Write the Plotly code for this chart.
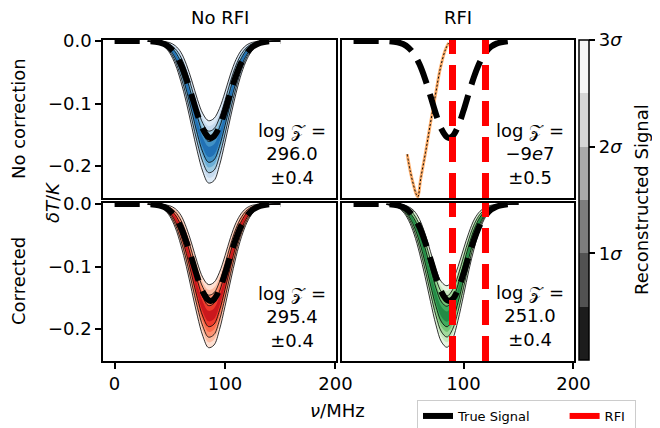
import plotly.graph_objects as go

# ---------------- data ----------------
NU = [30, 40, 45, 50, 55, 60, 65, 70, 75, 80, 85, 90, 95, 100, 105, 110, 115, 120, 125, 130, 140, 150]

# No correction / No RFI (blue)
mu_nocorr_norfi = [-0.0002, -0.0020, -0.0049, -0.0111, -0.0226, -0.0413, -0.0680, -0.1010, -0.1352, -0.1630, -0.1772,
                   -0.1735, -0.1532, -0.1218, -0.0873, -0.0564, -0.0328, -0.0172, -0.0081, -0.0035, -0.0005, 0.0]
sd_nocorr_norfi = [0.0001, 0.0006, 0.0013, 0.0028, 0.0050, 0.0078, 0.0102, 0.0124, 0.0140, 0.0155, 0.0166,
                   0.0166, 0.0152, 0.0134, 0.0115, 0.0090, 0.0062, 0.0038, 0.0020, 0.0009, 0.0002, 0.0]
# Corrected / No RFI (red)
mu_corr_norfi = [-0.0002, -0.0020, -0.0050, -0.0112, -0.0228, -0.0418, -0.0688, -0.1021, -0.1367, -0.1648, -0.1792,
                 -0.1754, -0.1549, -0.1231, -0.0883, -0.0570, -0.0332, -0.0174, -0.0082, -0.0035, -0.0005, 0.0]
sd_corr_norfi = [0.0001, 0.0006, 0.0013, 0.0028, 0.0051, 0.0080, 0.0104, 0.0126, 0.0142, 0.0156, 0.0168,
                 0.0167, 0.0153, 0.0135, 0.0116, 0.0091, 0.0063, 0.0039, 0.0021, 0.0009, 0.0002, 0.0]
# Corrected / RFI (green)
mu_corr_rfi = [-0.0004, -0.0029, -0.0070, -0.0151, -0.0294, -0.0516, -0.0816, -0.1162, -0.1492, -0.1726, -0.1799,
               -0.1690, -0.1431, -0.1092, -0.0751, -0.0465, -0.0260, -0.0131, -0.0059, -0.0024, -0.0003, 0.0]
sd_corr_rfi = [0.0001, 0.0008, 0.0018, 0.0036, 0.0062, 0.0090, 0.0114, 0.0133, 0.0148, 0.0160, 0.0164,
               0.0158, 0.0143, 0.0124, 0.0100, 0.0075, 0.0048, 0.0026, 0.0013, 0.0006, 0.0001, 0.0]

# No correction / RFI: collapsed (very thin) reconstruction
nu_fit_rfi = [48.8, 51.8, 54.8, 57.0, 58.5, 61.0, 65.5, 70.0, 74.5, 79.0, 83.5, 86.5]
T_fit_rfi = [-0.181, -0.210, -0.232, -0.245, -0.249, -0.221, -0.178, -0.131, -0.086, -0.043, -0.014, -0.003]

# True signal
nu_true = [0, 20, 30, 40, 45, 50, 55, 60, 65, 70, 75, 80, 85, 87, 90, 95, 100, 105, 110, 115, 120, 125, 130, 140, 150]
T_true = [0, 0, -0.0003, -0.0021, -0.0049, -0.0107, -0.0210, -0.0373, -0.0602, -0.0881, -0.1170, -0.1410, -0.1538,
          -0.1550, -0.1523, -0.1368, -0.1114, -0.0823, -0.0552, -0.0335, -0.0185, -0.0092, -0.0042, -0.0006, 0]

# RFI frequencies
rfi_nu = [90.0, 120.0]

# Evidences
logz_vals = ["296.0", "−9<i>e</i>7", "295.4", "251.0"]
logz_errs = ["±0.4", "±0.5", "±0.4", "±0.4"]

col_titles = ["No RFI", "RFI"]
row_titles = ["No correction", "Corrected"]
legend_names = ["True Signal", "RFI"]
cbar_title = "Reconstructed Signal"
sigma_levels = [3.0, 2.5, 2.0, 1.5, 1.0, 0.5]
cbar_ticks = [1, 2, 3]
cbar_text = ["1<i>σ</i>", "2<i>σ</i>", "3<i>σ</i>"]
x_ticks_left = [0, 100, 200]
x_ticks_right = [100, 200]
y_ticks = [0.0, -0.1, -0.2]

BLUES = ['#deebf7', '#c6dbef', '#9ecae1', '#6baed6', '#4292c6', '#2171b5']
REDS = ['#fee0d2', '#fcbba1', '#fc9272', '#fb6a4a', '#ef3b2c', '#cb181d']
GREENS = ['#e5f5e0', '#c7e9c0', '#a1d99b', '#74c476', '#41ab5d', '#238b45']
GRAYS = ['#1c1c1c', '#525252', '#7d7d7d', '#a9a9a9', '#d6d6d6', '#f5f5f5']

W, H = 660, 428
OFF = 8  # page body margin offset
FONT = "DejaVu Sans"
YR = [-0.251, 0.0016]
XR = [-10.5, 200.5]


def fx(px):
    return (px - OFF) / W


def fy(py):
    return 1 - (py - OFF) / H


fig = go.Figure()


def add_bands(mu, sd, colors, xa, ya):
    for k, col in zip(sigma_levels, colors):
        lower = [m - k * s for m, s in zip(mu, sd)]
        upper = [m + k * s for m, s in zip(mu, sd)]
        fig.add_trace(go.Scatter(x=NU + NU[::-1], y=lower + upper[::-1], mode='lines', fill='toself',
                                 fillcolor=col, line=dict(color='rgba(0,0,0,0)', width=0, shape='spline'),
                                 xaxis=xa, yaxis=ya, hoverinfo='skip', showlegend=False))
    for k in [1, 2, 3]:
        for sgn in (-1, 1):
            fig.add_trace(go.Scatter(x=NU, y=[m + sgn * k * s for m, s in zip(mu, sd)], mode='lines',
                                     line=dict(color='black', width=0.8, shape='spline'),
                                     xaxis=xa, yaxis=ya, hoverinfo='skip', showlegend=False))


def add_true(xa, ya):
    fig.add_trace(go.Scatter(x=nu_true, y=T_true, mode='lines',
                             line=dict(color='black', width=6, dash='25px,11px', shape='spline'),
                             xaxis=xa, yaxis=ya, hoverinfo='skip', showlegend=False))


def add_rfi(xa, ya):
    for f in rfi_nu:
        fig.add_trace(go.Scatter(x=[f, f], y=[YR[0], YR[1]], mode='lines',
                                 line=dict(color='#ff0000', width=7, dash='25px,11px'),
                                 xaxis=xa, yaxis=ya, hoverinfo='skip', showlegend=False))


# top-left
add_bands(mu_nocorr_norfi, sd_nocorr_norfi, BLUES, 'x', 'y')
add_true('x', 'y')
# top-right
fig.add_trace(go.Scatter(x=nu_fit_rfi, y=T_fit_rfi, mode='lines',
                         line=dict(color='#fdae6b', width=3, shape='spline'),
                         xaxis='x2', yaxis='y2', hoverinfo='skip', showlegend=False))
fig.add_trace(go.Scatter(x=nu_fit_rfi, y=T_fit_rfi, mode='lines',
                         line=dict(color='black', width=1, dash='2px,2px', shape='spline'),
                         xaxis='x2', yaxis='y2', hoverinfo='skip', showlegend=False))
add_true('x2', 'y2')
add_rfi('x2', 'y2')
# bottom-left
add_bands(mu_corr_norfi, sd_corr_norfi, REDS, 'x3', 'y3')
add_true('x3', 'y3')
# bottom-right
add_bands(mu_corr_rfi, sd_corr_rfi, GREENS, 'x4', 'y4')
add_true('x4', 'y4')
add_rfi('x4', 'y4')

# colorbar (dummy, clipped marker)
cs = []
for i, c in enumerate(GRAYS):
    cs.append([i / 6, c])
    cs.append([(i + 1) / 6, c])
fig.add_trace(go.Scatter(x=[-100, -100], y=[0, 0], mode='markers', xaxis='x', yaxis='y',
                         marker=dict(color=[0, 3], cmin=0, cmax=3, colorscale=cs, showscale=True, size=1,
                                     colorbar=dict(x=fx(579), xanchor='left', xpad=0, ypad=0,
                                                   y=fy(200), yanchor='middle', len=320, lenmode='pixels',
                                                   thickness=10, outlinewidth=1.5, outlinecolor='black',
                                                   tickvals=cbar_ticks, ticktext=cbar_text, ticks='outside',
                                                   ticklen=6, tickwidth=1.5, tickcolor='black',
                                                   tickfont=dict(size=18, family=FONT, color='black'))),
                         hoverinfo='skip', showlegend=False))

# legend entries
NBSP = "\u00a0"
fig.add_trace(go.Scatter(x=[None], y=[None], mode='lines', line=dict(color='black', width=6),
                         name=legend_names[0] + NBSP * 7))
fig.add_trace(go.Scatter(x=[None], y=[None], mode='lines', line=dict(color='#ff0000', width=6),
                         name=legend_names[1] + NBSP))

xl = [fx(103), fx(336)]
xr = [fx(342), fx(574)]
yt = [fy(198), fy(40)]
yb = [fy(361), fy(203)]

common = dict(showline=True, mirror=True, linecolor='black', linewidth=1.5, showgrid=False, zeroline=False,
              automargin=False,
              tickfont=dict(size=18, family=FONT, color='black'), ticklen=6, tickwidth=1.5, tickcolor='black')


def xax(dom, anchor, ticks_vals):
    d = dict(common, domain=dom, anchor=anchor, range=XR)
    if ticks_vals is None:
        d.update(showticklabels=False, ticks='')
    else:
        d.update(tickvals=ticks_vals, ticks='outside')
    return d


def yax(dom, anchor, show):
    d = dict(common, domain=dom, anchor=anchor, range=YR)
    if show:
        d.update(tickvals=y_ticks, ticks='outside', tickformat='.1f')
    else:
        d.update(showticklabels=False, ticks='')
    return d


annotations = []


def ann(text, px, py, size=18, angle=0):
    annotations.append(dict(text=text, x=fx(px), y=fy(py), xref='paper', yref='paper', showarrow=False,
                            xanchor='center', yanchor='middle', textangle=angle,
                            font=dict(size=size, family=FONT, color='black')))


ann(col_titles[0], 220, 18)
ann(col_titles[1], 458, 18)
ann(row_titles[0], 18, 119, angle=-90)
ann(row_titles[1], 18, 281, angle=-90)
ann("<i>δT</i>/<i>K</i>", 52, 203, angle=-90)
ann("<i>ν</i>/MHz", 337, 410)
ann(cbar_title, 641, 200, angle=-90)
pos = [(292, 154), (530, 154), (292, 317), (530, 316)]
for (px, py), v, e in zip(pos, logz_vals, logz_errs):
    ann("log 𝒵 =<br>" + v + "<br>" + e, px, py)

fig.update_layout(
    width=W, height=H, margin=dict(l=0, r=0, t=0, b=0, autoexpand=False),
    paper_bgcolor='white', plot_bgcolor='white',
    font=dict(family=FONT, color='black'),
    xaxis=xax(xl, 'y', None), yaxis=yax(yt, 'x', True),
    xaxis2=xax(xr, 'y2', None), yaxis2=yax(yt, 'x2', False),
    xaxis3=xax(xl, 'y3', x_ticks_left), yaxis3=yax(yb, 'x3', True),
    xaxis4=xax(xr, 'y4', x_ticks_right), yaxis4=yax(yb, 'x4', False),
    showlegend=True,
    legend=dict(orientation='h', x=fx(417), y=fy(400), xanchor='left', yanchor='top',
                bordercolor='#cccccc', borderwidth=1, font=dict(size=13, family=FONT, color='black'),
                bgcolor='white'),
    annotations=annotations,
)

fig.write_html("out.html")
